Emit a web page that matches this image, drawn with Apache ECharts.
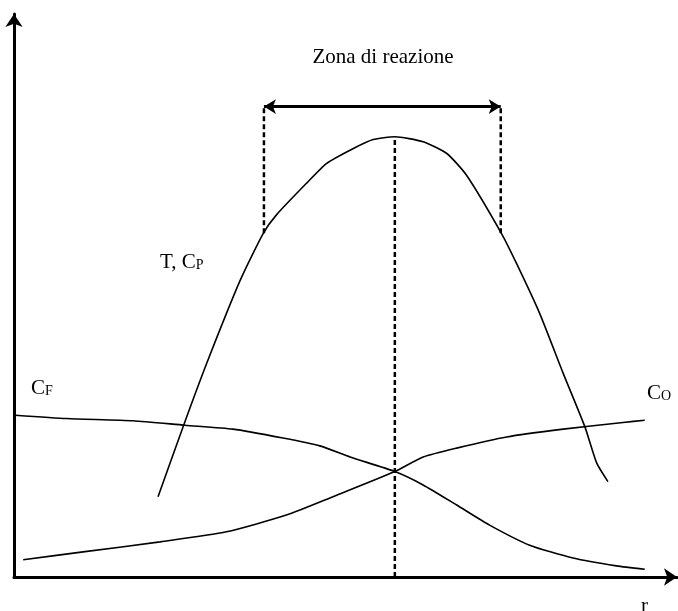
<!DOCTYPE html>
<html style="height: 100%">
<head>
    <meta charset="utf-8">
    <title>Zona di reazione</title>
    <script src="https://cdn.jsdelivr.net/npm/echarts/dist/echarts.min.js"></script>
</head>
<body style="height: 100%; margin: 0; background: #fff">
    <div id="main" style="width: 678px; height: 611px"></div>
    <script type="text/javascript">
        // curve points [r, valore]
        var tCurve = [
            [21.9, 14.4], [25.7, 26.9], [29.3, 38.3], [34.4, 53.2], [37.9, 61.6],
            [39.9, 64.9], [44.5, 70.6], [47.5, 74.1], [51.6, 76.8], [54.6, 78.4],
            [57.9, 78.9], [62.2, 78.0], [65.8, 75.9], [68.8, 72.0], [74.1, 61.6],
            [76.4, 56.2], [79.9, 47.3], [83.5, 36.5], [86.8, 26.9], [88.6, 20.4],
            [90.3, 17.1]
        ];
        var cfCurve = [
            [0.2, 29.0], [8.0, 28.4], [18.1, 28.0], [26.0, 27.2], [33.3, 26.5],
            [40.9, 24.9], [46.5, 23.5], [51.1, 21.5], [57.9, 18.9], [62.2, 16.5],
            [67.3, 12.9], [72.3, 9.3], [78.4, 5.7], [85.0, 3.4], [91.6, 2.0],
            [95.9, 1.4]
        ];
        var coCurve = [
            [1.4, 3.1], [10.5, 4.5], [22.2, 6.3], [32.3, 8.1], [41.4, 11.1],
            [48.5, 14.4], [57.9, 18.9], [62.2, 21.5], [67.3, 23.1], [74.9, 25.1],
            [83.5, 26.5], [92.6, 27.7], [95.9, 28.1]
        ];
        // zona di reazione: limiti, picco, altezza della freccia
        var zoneLeft = [38.0, 61.6];
        var zoneRight = [74.0, 61.6];
        var peak = [57.9, 78.9];
        var arrowY = 84.3;

        var myChart = echarts.init(document.getElementById('main'));

        var serif = '"Liberation Serif", "DejaVu Serif", serif';
        var dashed = { color: '#000', width: 2.5, type: [5, 3] };
        var curve = { color: '#000', width: 1.6 };

        function sub(main, s) {
            return '{m|' + main + '}{s|' + s + '}';
        }
        var richText = {
            m: { fontFamily: serif, fontSize: 21, color: '#000' },
            s: { fontFamily: serif, fontSize: 14, color: '#000', verticalAlign: 'bottom', padding: [7, 0, 0, 0] }
        };

        var option = {
            animation: false,
            grid: { left: 14, right: 1, top: 14, bottom: 34 },
            xAxis: {
                type: 'value', min: 0, max: 100.8,
                axisLine: { show: true, onZero: false, symbol: ['none', 'arrow'], symbolSize: [13, 13],
                    lineStyle: { color: '#000', width: 3 } },
                axisTick: { show: false }, axisLabel: { show: false }, splitLine: { show: false }
            },
            yAxis: {
                type: 'value', min: 0, max: 100.9,
                axisLine: { show: true, onZero: false, symbol: ['none', 'arrow'], symbolSize: [13, 13],
                    lineStyle: { color: '#000', width: 3 } },
                axisTick: { show: false }, axisLabel: { show: false }, splitLine: { show: false }
            },
            series: [
                { type: 'line', data: tCurve, smooth: 0.2, showSymbol: false, lineStyle: curve, silent: true },
                { type: 'line', data: cfCurve, smooth: 0.2, showSymbol: false, lineStyle: curve, silent: true },
                { type: 'line', data: coCurve, smooth: 0.2, showSymbol: false, lineStyle: curve, silent: true },
                { type: 'line', data: [[peak[0], 0], peak], showSymbol: false, lineStyle: dashed, silent: true },
                { type: 'line', data: [zoneLeft, [zoneLeft[0], arrowY]], showSymbol: false, lineStyle: dashed, silent: true },
                {
                    type: 'line', data: [zoneRight, [zoneRight[0], arrowY]], showSymbol: false, lineStyle: dashed, silent: true,
                    markLine: {
                        silent: true,
                        symbol: ['arrow', 'arrow'],
                        symbolSize: [11, 12],
                        label: { show: false },
                        lineStyle: { color: '#000', width: 3, type: 'solid' },
                        data: [[{ coord: [zoneLeft[0], arrowY] }, { coord: [zoneRight[0], arrowY] }]]
                    }
                }
            ],
            graphic: [
                { type: 'text', x: 383, y: 57, style: { text: 'Zona di reazione', font: '21px ' + serif, fill: '#000', align: 'center', verticalAlign: 'middle' } },
                { type: 'text', x: 160, y: 262, style: { text: '{m|T, }' + sub('C', 'P'), rich: richText, align: 'left', verticalAlign: 'middle' } },
                { type: 'text', x: 31, y: 388, style: { text: sub('C', 'F'), rich: richText, align: 'left', verticalAlign: 'middle' } },
                { type: 'text', x: 647, y: 393, style: { text: sub('C', 'O'), rich: richText, align: 'left', verticalAlign: 'middle' } },
                { type: 'text', x: 641, y: 606, style: { text: 'r', font: '21px ' + serif, fill: '#000', align: 'left', verticalAlign: 'middle' } }
            ]
        };

        myChart.setOption(option);
    </script>
</body>
</html>
